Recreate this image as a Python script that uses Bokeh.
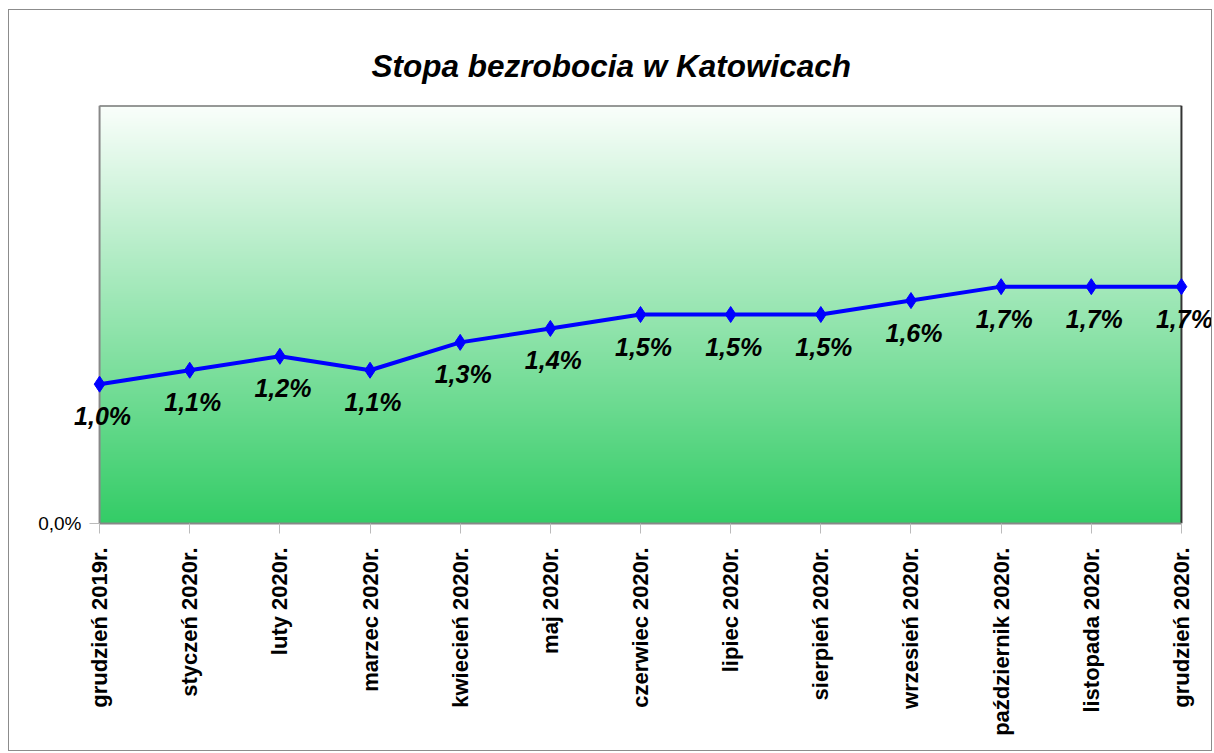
import numpy as np
from bokeh.plotting import figure
from bokeh.models import FixedTicker, Range1d, ColumnDataSource, Label
from bokeh.embed import file_html
from bokeh.resources import INLINE

months = ["grudzień 2019r.", "styczeń 2020r.", "luty 2020r.", "marzec 2020r.",
          "kwiecień 2020r.", "maj 2020r.", "czerwiec 2020r.", "lipiec 2020r.",
          "sierpień 2020r.", "wrzesień 2020r.", "październik 2020r.",
          "listopada 2020r.", "grudzień 2020r."]
rate = [1.0, 1.1, 1.2, 1.1, 1.3, 1.4, 1.5, 1.5, 1.5, 1.6, 1.7, 1.7, 1.7]
rate_labels = ["1,0%", "1,1%", "1,2%", "1,1%", "1,3%", "1,4%", "1,5%", "1,5%",
               "1,5%", "1,6%", "1,7%", "1,7%", "1,7%"]
y_max = 3.0

xs = list(range(len(months)))
x_last = len(months) - 1

# frame padded so edge labels/markers are not clipped (90 px per category)
pad_left = 40 / 90
pad_right = 32 / 90

p = figure(width=1204, height=742, output_backend="svg", toolbar_location=None,
           x_range=Range1d(-pad_left, x_last + pad_right), y_range=Range1d(0, y_max),
           min_border_left=50, min_border_right=0, min_border_top=95,
           min_border_bottom=229, title="Stopa bezrobocia w Katowicach")
p.styles = {"border": "1px solid #8c8c8c", "margin-left": "8px", "margin-top": "9px"}

p.title.text_font = "Liberation Sans"
p.title.text_font_style = "bold italic"
p.title.text_font_size = "31.5px"
p.title.text_color = "black"
p.title.align = "left"
p.title.standoff = 44
p.title.offset = 312

p.xgrid.visible = False
p.ygrid.visible = False
p.outline_line_color = None
p.background_fill_color = "white"
p.border_fill_color = "white"

# vertical gradient background (style only)
n = 420
top_c = np.array([250, 254, 251])
bot_c = np.array([51, 204, 102])
img = np.zeros((n, 2), dtype=np.uint32)
view = img.view(dtype=np.uint8).reshape((n, 2, 4))
for i in range(n):
    t = (i + 0.5) / n  # row 0 = bottom
    c = bot_c + (top_c - bot_c) * t
    view[i, :, 0] = int(round(c[0]))
    view[i, :, 1] = int(round(c[1]))
    view[i, :, 2] = int(round(c[2]))
    view[i, :, 3] = 255
p.image_rgba(image=[img], x=0, y=0, dw=x_last, dh=y_max)

# plot-area border: top and right dark, left grey (value axis line)
p.segment(x0=[0, x_last], y0=[y_max, 0], x1=[x_last, x_last], y1=[y_max, y_max],
          line_color="#333333", line_width=2)
p.segment(x0=[0], y0=[0], x1=[0], y1=[y_max], line_color="#888888", line_width=2)

src = ColumnDataSource(dict(x=xs, y=rate, lab=rate_labels))
p.line("x", "y", source=src, line_color="#0000ff", line_width=4)
p.scatter("x", "y", source=src, marker="diamond", size=16, fill_color="#0000ff",
          line_color="#0000ff")

for xv, yv, lab in zip(xs, rate, rate_labels):
    p.add_layout(Label(x=xv, y=yv, text=lab, x_offset=3, y_offset=-32,
                       text_align="center", text_baseline="middle",
                       text_font="Liberation Sans", text_font_style="bold italic",
                       text_font_size="25px", text_color="black"))

# x axis
p.xaxis.bounds = (0, x_last)
p.xaxis.ticker = FixedTicker(ticks=xs)
p.xaxis.major_label_overrides = {i: m for i, m in enumerate(months)}
p.xaxis.major_label_orientation = np.pi / 2
p.xaxis.major_label_text_font = "Liberation Sans"
p.xaxis.major_label_text_font_style = "bold"
p.xaxis.major_label_text_font_size = "22px"
p.xaxis.major_label_text_color = "black"
p.xaxis.major_label_standoff = 14
p.xaxis.major_tick_in = 0
p.xaxis.major_tick_out = 10
p.xaxis.major_tick_line_color = "#bbbbbb"
p.xaxis.minor_tick_line_color = None
p.xaxis.axis_line_color = "#888888"
p.xaxis.axis_line_width = 2

# y axis (sits at the frame's left edge; tick reaches the first category)
p.yaxis.ticker = FixedTicker(ticks=[0])
p.yaxis.major_label_overrides = {0: "0,0%"}
p.yaxis.major_label_text_font = "Liberation Sans"
p.yaxis.major_label_text_font_size = "19px"
p.yaxis.major_label_text_color = "black"
p.yaxis.major_tick_in = 40
p.yaxis.major_tick_out = -30
p.yaxis.major_label_standoff = -22
p.yaxis.major_tick_line_color = "#bbbbbb"
p.yaxis.minor_tick_line_color = None
p.yaxis.axis_line_color = None

open("out.html", "w").write(file_html(p, INLINE))
